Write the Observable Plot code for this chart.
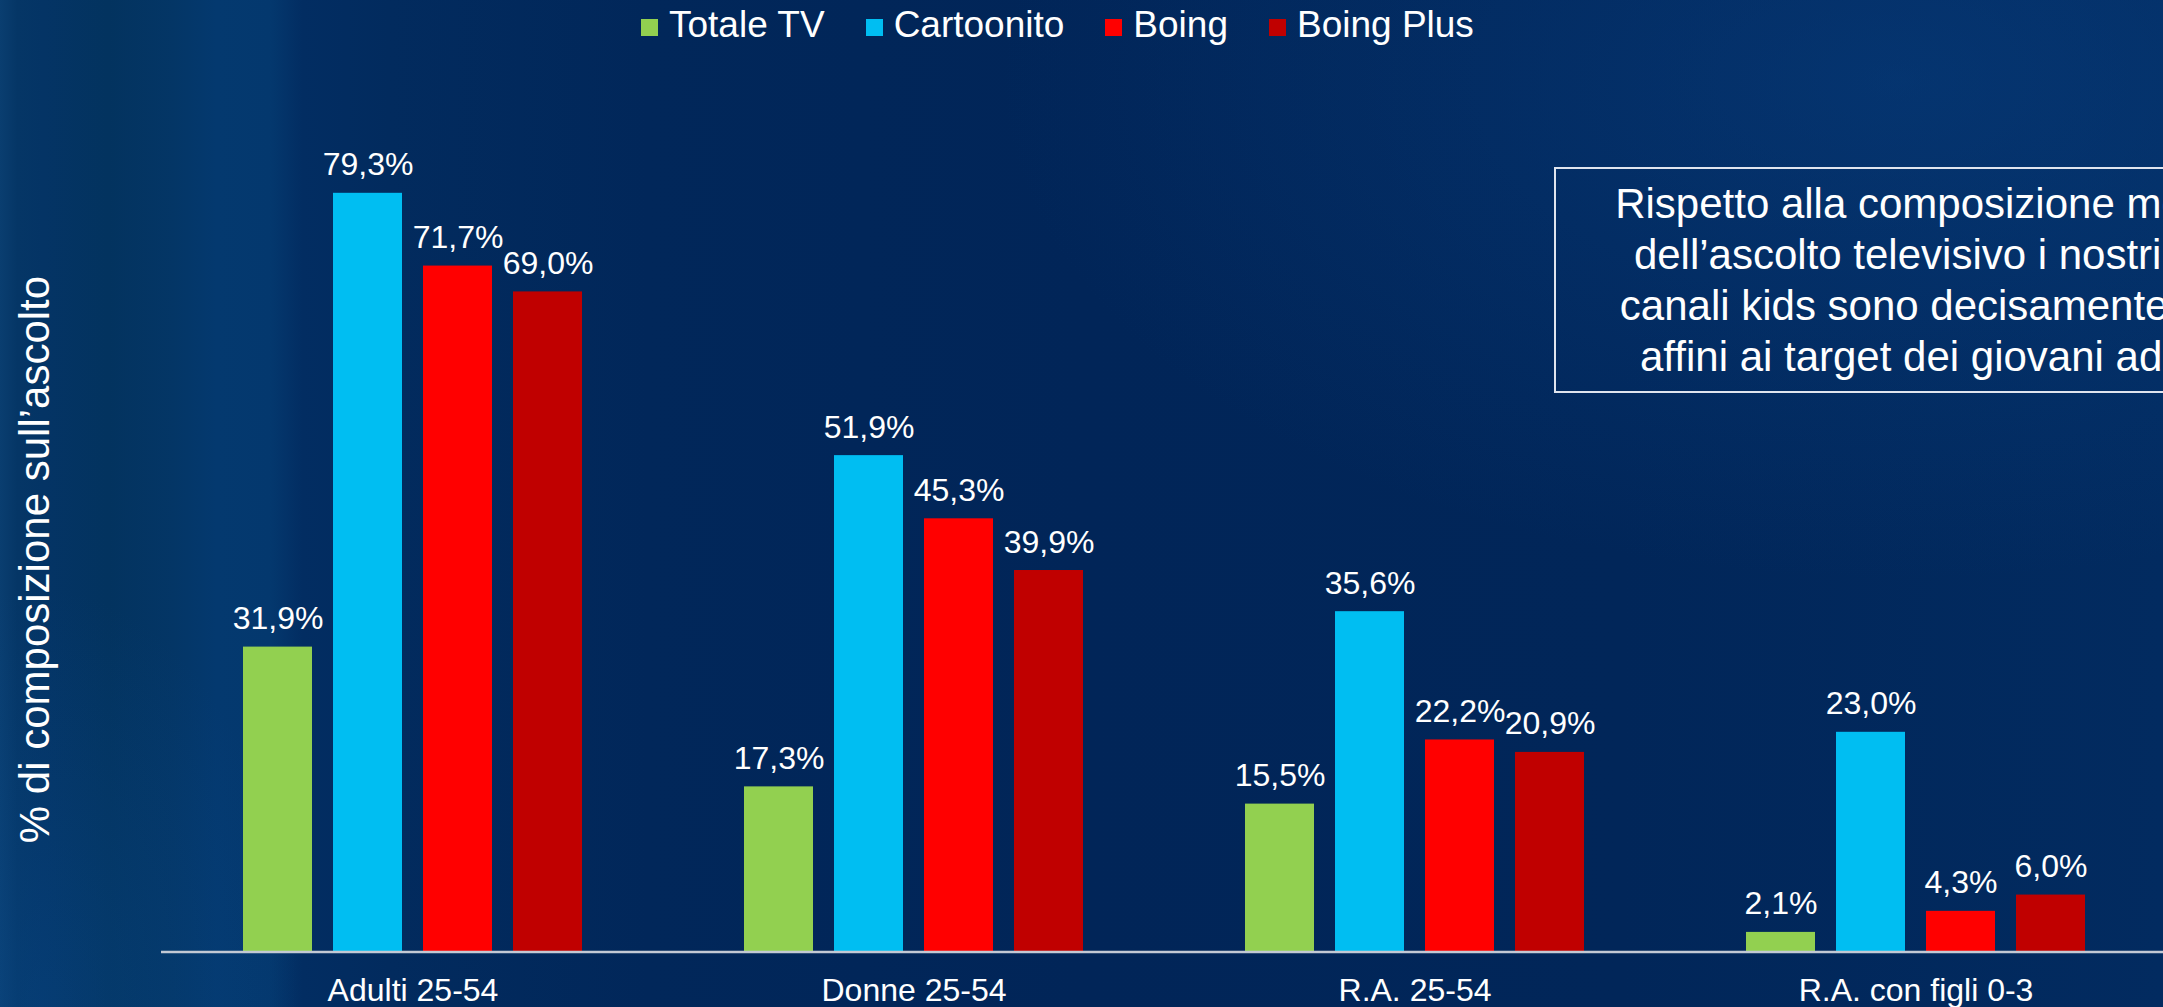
<!DOCTYPE html>
<html>
<head>
<meta charset="utf-8">
<script src="https://cdn.jsdelivr.net/npm/d3@7"></script>
<script src="https://cdn.jsdelivr.net/npm/@observablehq/plot@0.6"></script>
<style>
  html, body { margin: 0; padding: 0; overflow: hidden; width: 2163px; height: 1007px; }
  body {
    position: relative;
    font-family: "Liberation Sans", Arial, sans-serif;
    color: white;
    background:
      radial-gradient(ellipse 900px 500px at 1900px 80px, rgba(10,70,140,0.40), rgba(0,0,0,0)),
      radial-gradient(ellipse 260px 420px at 40px 1007px, rgba(10,80,150,0.30), rgba(0,0,0,0)),
      linear-gradient(90deg, #0a3e70 0%, #053666 0.8%, #043465 2%, #03335f 5%, #043666 8%, #04396f 10%, #04386e 12.5%, #022d62 14%, #022b5e 18%, #01275a 30%, #012558 50%, #012659 75%, #022b60 100%);
  }
  #legend { position: absolute; top: 0; left: 641px; height: 56px; display: flex; padding-top: 6px; box-sizing: border-box; }
  #legend .item { display: flex; align-items: center; font-size: 37px; line-height: 37px; height: 37px; margin-right: 41px; white-space: nowrap; }
  #legend .sw { width: 17px; height: 17px; margin-right: 11px; position: relative; top: 3px; }
  #chart { position: absolute; top: 56px; left: 0; }
  #note {
    position: absolute; left: 1554px; top: 167px; width: 748px; height: 226px; box-sizing: border-box;
    border: 2px solid #dfe4ee; padding-top: 9px; text-align: center;
    font-size: 42px; line-height: 51px; white-space: nowrap;
  }
</style>
</head>
<body>
<div id="legend"></div>
<div id="chart"></div>
<div id="note"></div>
<script>
const categories = ["Adulti 25-54", "Donne 25-54", "R.A. 25-54", "R.A. con figli 0-3"];
const series = ["Totale TV", "Cartoonito", "Boing", "Boing Plus"];
const seriesColors = ["#92D050", "#00BEF2", "#FF0000", "#C00000"];
const totaleTV = [31.9, 17.3, 15.5, 2.1];
const cartoonito = [79.3, 51.9, 35.6, 23.0];
const boing = [71.7, 45.3, 22.2, 4.3];
const boingPlus = [69.0, 39.9, 20.9, 6.0];
const yLabel = "% di composizione sull’ascolto";
const noteLines = [
  "Rispetto alla composizione media",
  "dell’ascolto televisivo i nostri tre",
  "canali kids sono decisamente più",
  "affini ai target dei giovani adulti"
];

const valuesBySeries = [totaleTV, cartoonito, boing, boingPlus];
const data = [];
categories.forEach((c, i) => {
  series.forEach((s, j) => data.push({category: c, series: s, value: valuesBySeries[j][i]}));
});
const fmt = v => v.toFixed(1).replace(".", ",") + "%";

// legend
const legend = document.getElementById("legend");
series.forEach((s, j) => {
  const it = document.createElement("div");
  it.className = "item";
  const sw = document.createElement("span");
  sw.className = "sw";
  sw.style.background = seriesColors[j];
  it.appendChild(sw);
  it.appendChild(document.createTextNode(s));
  legend.appendChild(it);
});

// note box
const note = document.getElementById("note");
noteLines.forEach(l => { const d = document.createElement("div"); d.textContent = l; note.appendChild(d); });

const chart = Plot.plot({
  width: 2180,
  height: 951,
  marginLeft: 161,
  marginRight: 12,
  marginTop: 110,
  marginBottom: 55,
  style: {background: "transparent", color: "white", fontFamily: "Liberation Sans, Arial, sans-serif", fontSize: "32px", maxWidth: "none", overflow: "visible"},
  fx: {domain: categories, paddingInner: 0.2745, paddingOuter: 0.137, axis: "bottom", label: null, tickSize: 0, tickPadding: 26},
  x: {domain: series, paddingInner: 0.23, paddingOuter: 0.115, axis: null},
  y: {domain: [0, 82.1], ticks: [], tickSize: 0, label: yLabel, labelArrow: "none", labelAnchor: "center", labelOffset: 212},
  color: {domain: series, range: seriesColors},
  marks: [
    Plot.barY(data, {fx: "category", x: "series", y: "value", fill: "series"}),
    Plot.text(data, {fx: "category", x: "series", y: "value", text: d => fmt(d.value), dy: -18, lineAnchor: "bottom", fill: "white", fontSize: 32})
  ]
});
document.getElementById("chart").appendChild(chart);

// y label size
const svg = d3.select(chart.tagName.toLowerCase() === "svg" ? chart : chart.querySelector("svg"));
svg.selectAll('[aria-label^="y-axis"] text').attr("font-size", 42).style("font-size", "42px");

// baseline axis line across the whole category range
const fxs = chart.scale("fx");
const ys = chart.scale("y");
const y0 = d3.scaleLinear(ys.domain, ys.range)(0);
svg.append("line")
  .attr("x1", fxs.range[0]).attr("x2", fxs.range[1])
  .attr("y1", y0).attr("y2", y0)
  .attr("stroke", "#c3c9d4").attr("stroke-width", 2.5);
</script>
</body>
</html>
